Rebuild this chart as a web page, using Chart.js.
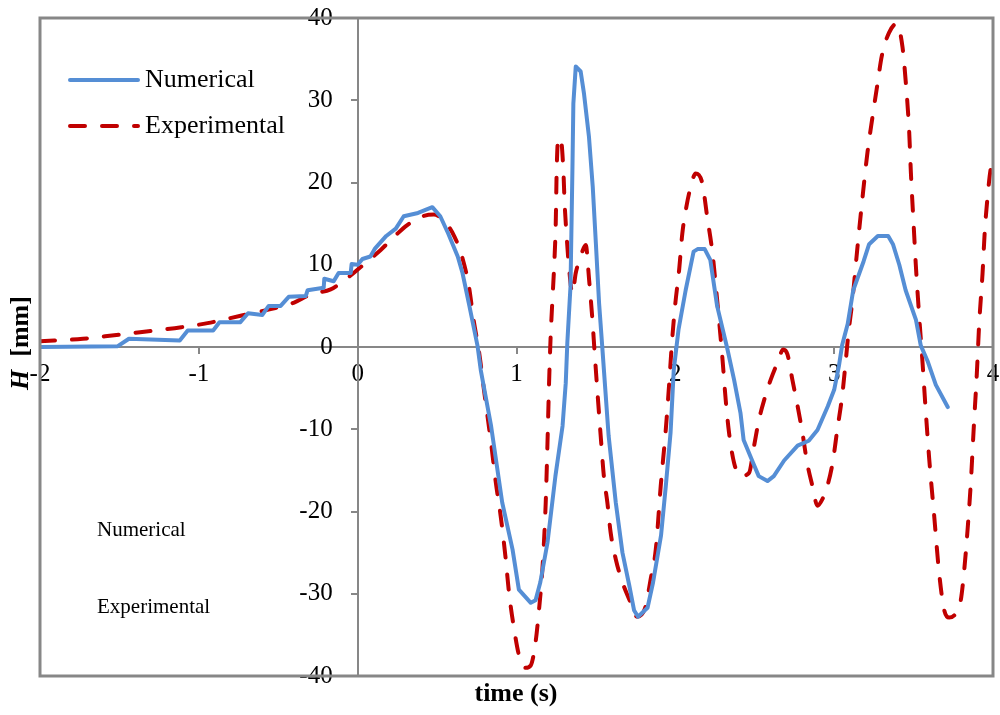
<!DOCTYPE html>
<html>
<head>
<meta charset="utf-8">
<script src="https://cdn.jsdelivr.net/npm/chart.js@4.4.1/dist/chart.umd.min.js"></script>
<style>
  html, body { margin: 0; padding: 0; background: #fff; }
  #wrap { width: 1000px; height: 715px; }
</style>
</head>
<body>
<div id="wrap"><canvas id="myChart" width="1000" height="715"></canvas></div>
<script>
// wave height H (mm) against time (s)
const numTime = [-2, -1.51, -1.44, -1.12, -1.07, -0.91, -0.87, -0.74, -0.69, -0.6, -0.56, -0.485, -0.434, -0.327, -0.315, -0.214, -0.21, -0.151, -0.12, -0.044, -0.038, 0, 0.03, 0.08, 0.11, 0.18, 0.24, 0.29, 0.38, 0.47, 0.52, 0.57, 0.63, 0.66, 0.7, 0.755, 0.775, 0.84, 0.91, 0.975, 1.015, 1.09, 1.12, 1.15, 1.195, 1.245, 1.29, 1.31, 1.32, 1.34, 1.352, 1.358, 1.373, 1.404, 1.425, 1.456, 1.48, 1.5, 1.52, 1.54, 1.58, 1.625, 1.667, 1.71, 1.74, 1.765, 1.825, 1.86, 1.91, 1.94, 1.97, 1.99, 2.02, 2.065, 2.115, 2.14, 2.185, 2.22, 2.263, 2.326, 2.37, 2.41, 2.43, 2.49, 2.525, 2.58, 2.62, 2.685, 2.77, 2.84, 2.895, 2.96, 3.0, 3.03, 3.05, 3.085, 3.12, 3.185, 3.22, 3.275, 3.34, 3.37, 3.41, 3.45, 3.515, 3.545, 3.59, 3.64, 3.715];
const numH = [0, 0.1, 1.0, 0.8, 2.0, 2.0, 3.0, 3.0, 4.1, 3.9, 5.0, 5.0, 6.1, 6.2, 6.9, 7.2, 8.3, 8.0, 9.0, 9.0, 10.1, 10.0, 10.7, 11.0, 12.0, 13.5, 14.4, 15.9, 16.3, 17.0, 15.9, 13.8, 11.0, 9.0, 5.3, 0.1, -2.8, -9.6, -18.9, -24.6, -29.5, -31.1, -30.8, -28.6, -23.8, -15.7, -9.6, -4.4, 0.5, 7.4, 21.5, 29.6, 34.1, 33.5, 30.8, 25.6, 19.5, 12.5, 5.3, 0.0, -10.8, -18.9, -25.0, -29.0, -32.0, -32.8, -31.7, -28.6, -22.9, -16.9, -10.4, -2.8, 2.1, 6.9, 11.6, 11.9, 11.9, 10.6, 5.0, -0.1, -4.0, -8.0, -11.3, -14.1, -15.7, -16.3, -15.7, -13.8, -12.0, -11.4, -10.1, -7.2, -5.2, -2.3, 0.2, 2.8, 6.9, 10.4, 12.5, 13.5, 13.5, 12.5, 10.0, 6.9, 3.3, 0.2, -1.8, -4.6, -7.3];

const expTime = [-2, -1.73, -1.59, -1.37, -1.11, -0.945, -0.737, -0.548, -0.4, -0.296, -0.17, -0.12, -0.025, 0.06, 0.145, 0.24, 0.31, 0.41, 0.48, 0.545, 0.61, 0.66, 0.7, 0.73, 0.765, 0.795, 0.84, 0.87, 0.9, 0.93, 0.953, 0.985, 1.016, 1.058, 1.09, 1.12, 1.14, 1.163, 1.184, 1.195, 1.205, 1.215, 1.226, 1.236, 1.247, 1.253, 1.262, 1.278, 1.295, 1.303, 1.316, 1.33, 1.352, 1.373, 1.404, 1.436, 1.457, 1.478, 1.492, 1.51, 1.53, 1.55, 1.572, 1.593, 1.625, 1.667, 1.71, 1.76, 1.81, 1.845, 1.877, 1.908, 1.94, 1.96, 1.98, 2.0, 2.024, 2.044, 2.07, 2.097, 2.128, 2.17, 2.2, 2.234, 2.255, 2.275, 2.297, 2.317, 2.338, 2.37, 2.41, 2.464, 2.496, 2.527, 2.56, 2.6, 2.643, 2.68, 2.706, 2.737, 2.77, 2.8, 2.83, 2.863, 2.895, 2.926, 2.957, 2.99, 3.02, 3.05, 3.07, 3.09, 3.115, 3.145, 3.178, 3.21, 3.24, 3.272, 3.3, 3.345, 3.394, 3.43, 3.45, 3.472, 3.483, 3.5, 3.514, 3.535, 3.556, 3.577, 3.598, 3.63, 3.66, 3.692, 3.724, 3.765, 3.797, 3.818, 3.84, 3.86, 3.88, 3.898, 3.913, 3.934, 3.948, 3.965, 3.986, 3.997];
const expH = [0.7, 1.0, 1.3, 1.8, 2.4, 2.9, 3.8, 4.6, 5.4, 6.4, 7.0, 7.6, 9.0, 10.4, 11.8, 13.6, 14.8, 15.9, 16.1, 15.3, 13.4, 10.8, 7.4, 3.3, -0.7, -5.2, -11.7, -16.5, -20.5, -25.4, -29.9, -34.3, -37.5, -39.0, -38.7, -35.9, -32.3, -27.0, -18.9, -11.7, -4.4, 1.3, 5.7, 9.4, 15.0, 21.5, 25.2, 25.4, 21.5, 17.5, 13.4, 9.8, 6.5, 9.0, 11.0, 12.4, 8.2, 3.3, -0.7, -5.6, -10.8, -15.7, -18.9, -22.6, -25.8, -28.6, -30.7, -32.8, -31.7, -28.2, -24.6, -16.9, -10.0, -4.8, 0.9, 5.3, 9.4, 13.8, 17.1, 19.5, 21.1, 19.9, 15.9, 11.4, 7.4, 3.3, -1.5, -6.4, -10.4, -14.1, -15.7, -15.3, -12.0, -8.8, -6.4, -4.0, -1.9, -0.3, -0.9, -4.0, -7.2, -10.4, -14.1, -16.9, -19.3, -18.5, -16.9, -14.1, -10.0, -6.0, -2.3, 1.7, 5.7, 11.8, 18.1, 23.7, 27.8, 31.9, 35.4, 38.2, 39.3, 36.5, 32.4, 26.3, 21.2, 15.0, 10.0, 3.8, -1.8, -7.9, -13.5, -20.6, -27.3, -31.9, -32.9, -32.4, -30.8, -27.3, -22.2, -16.6, -9.4, -3.3, 2.8, 8.9, 14.0, 18.1, 21.7, 22.2];

const seriesNames = ['Numerical', 'Experimental'];
const xTicks = [-2, -1, 0, 1, 2, 3, 4];
const yTicks = [-40, -30, -20, -10, 0, 10, 20, 30, 40];

const serif = "'Liberation Serif', 'Times New Roman', serif";
const grey = '#878787';
const blue = '#558ED5';
const red = '#C00000';

function pairs(xs, ys) {
  return xs.map((x, i) => ({ x: x, y: ys[i] }));
}

// grey frame, legend in the top-left corner and the axis titles
const decorations = {
  id: 'decorations',
  afterDraw(chart) {
    const { ctx, chartArea: a } = chart;
    ctx.save();

    ctx.strokeStyle = grey;
    ctx.lineWidth = 3;
    ctx.strokeRect(a.left, a.top, a.right - a.left, a.bottom - a.top);

    // legend
    const rows = [80, 126];
    chart.data.datasets.forEach((ds, i) => {
      ctx.beginPath();
      ctx.strokeStyle = ds.borderColor;
      ctx.lineWidth = ds.borderWidth;
      ctx.lineCap = 'round';
      ctx.setLineDash(ds.borderDash || []);
      ctx.moveTo(70, rows[i]);
      ctx.lineTo(138, rows[i]);
      ctx.stroke();
      ctx.setLineDash([]);
      ctx.fillStyle = '#000';
      ctx.font = '26px ' + serif;
      ctx.textAlign = 'left';
      ctx.textBaseline = 'middle';
      ctx.fillText(ds.label, 145, rows[i]);
    });

    // loose labels at the lower left
    ctx.font = '21px ' + serif;
    ctx.fillText(seriesNames[0], 97, 530);
    ctx.fillText(seriesNames[1], 97, 607);

    // x title
    ctx.font = 'bold 26px ' + serif;
    ctx.textAlign = 'center';
    ctx.fillText('time (s)', 516, 694);

    // y title, rotated
    ctx.translate(21, 343);
    ctx.rotate(-Math.PI / 2);
    ctx.font = 'bold italic 26px ' + serif;
    const hW = ctx.measureText('H').width;
    ctx.font = 'bold 26px ' + serif;
    const restW = ctx.measureText('  [mm]').width;
    let x0 = -(hW + restW) / 2;
    ctx.textAlign = 'left';
    ctx.font = 'bold italic 26px ' + serif;
    ctx.fillText('H', x0, 0);
    ctx.font = 'bold 26px ' + serif;
    ctx.fillText('  [mm]', x0 + hW, 0);

    ctx.restore();
  }
};

const ctx = document.getElementById('myChart');
new Chart(ctx, {
  type: 'line',
  data: {
    datasets: [{
      label: seriesNames[0],
      data: pairs(numTime, numH),
      borderColor: blue,
      borderWidth: 4,
      tension: 0,
      pointRadius: 0,
      borderJoinStyle: 'round',
      borderCapStyle: 'round'
    }, {
      label: seriesNames[1],
      data: pairs(expTime, expH),
      borderColor: red,
      borderWidth: 4,
      borderDash: [15, 17],
      borderCapStyle: 'round',
      cubicInterpolationMode: 'monotone',
      pointRadius: 0
    }]
  },
  options: {
    responsive: false,
    animation: false,
    devicePixelRatio: 1,
    layout: { autoPadding: false, padding: { left: 40, top: 15, right: 7, bottom: 39 } },
    plugins: {
      legend: { display: false },
      tooltip: { enabled: false }
    },
    scales: {
      x: {
        type: 'linear',
        position: { y: 0 },
        min: -2,
        max: 4,
        afterBuildTicks: s => { s.ticks = xTicks.map(v => ({ value: v })); },
        // end labels may hang over the frame, don't shrink the plot for them
        afterFit: s => { s.paddingLeft = 0; s.paddingRight = 0; },
        grid: { drawOnChartArea: false, drawTicks: true, tickLength: 6, color: grey, lineWidth: 2 },
        border: { color: grey, width: 2 },
        ticks: { color: '#000', font: { family: serif, size: 25 }, padding: 6, maxRotation: 0 }
      },
      y: {
        type: 'linear',
        position: { x: 0 },
        min: -40,
        max: 40,
        afterBuildTicks: s => { s.ticks = yTicks.map(v => ({ value: v })); },
        grid: { drawOnChartArea: false, drawTicks: true, tickLength: 6, color: grey, lineWidth: 2 },
        border: { color: grey, width: 2 },
        // labels sit right-aligned on the axis line, so an em space keeps them clear of it
        ticks: { color: '#000', font: { family: serif, size: 25 }, callback: v => v + '\u2003' }
      }
    }
  },
  plugins: [decorations]
});
</script>
</body>
</html>
